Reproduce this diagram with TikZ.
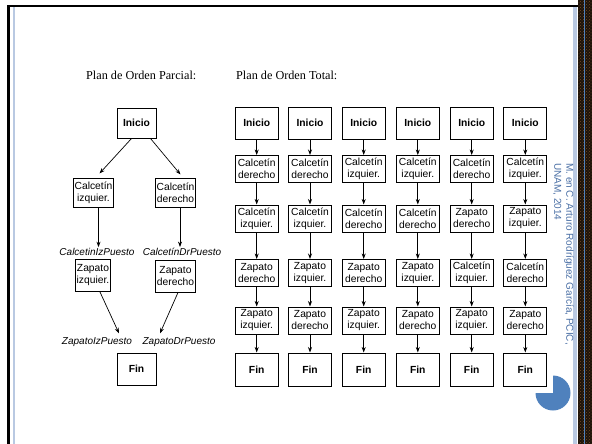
\documentclass[tikz,border=0pt]{standalone}
\usepackage{fontspec}
\setmainfont{Liberation Serif}
\setsansfont{Liberation Sans}
\usetikzlibrary{arrows.meta}
\usetikzlibrary{patterns}

\definecolor{slideblue}{HTML}{4F81BD}
\definecolor{creditblue}{HTML}{4A6FA5}
\definecolor{edgeblue}{HTML}{B9C9E2}

\newcommand{\cizq}{Calcetín\\izquier.}
\newcommand{\cder}{Calcetín\\derecho}
\newcommand{\zizq}{Zapato\\izquier.}
\newcommand{\zder}{Zapato\\derecho}

\begin{document}
\begin{tikzpicture}
		[x=1pt, y=-1pt,
		box/.style={draw, line width=1pt, align=center, inner sep=1pt, minimum width=43pt, minimum height=27pt, font=\sffamily\fontsize{10.3}{12}\selectfont},
		endbox/.style={box, minimum height=32pt, font=\sffamily\bfseries\fontsize{10.3}{12}\selectfont},
		lbl/.style={inner sep=1pt, font=\sffamily\itshape\fontsize{10}{12}\selectfont},
		title/.style={anchor=west, inner sep=0pt, font=\fontsize{12.2}{14}\selectfont},
		link/.style={->, line width=0.7pt},
		>={Stealth[length=5.5pt, width=4pt]}]
		\useasboundingbox (0,0) rectangle (592,444);

		% slide frame
		\fill[black] (7,5) rectangle (579,7);
		\fill[black] (7,5) rectangle (9.5,444);
		\fill[edgeblue] (12.5,7) rectangle (14.5,444);
		\fill[edgeblue] (573,7) rectangle (577,444);
		\fill[black!85!brown] (578,0) rectangle (592,444);
		\fill[pattern=crosshatch dots, pattern color=brown!60!black] (578,0) rectangle (592,444);
		\fill[slideblue] (583.5,0) rectangle (585,444);
		\fill[slideblue] (553,393) -- ++(0,-17.5) arc[start angle=270, end angle=540, radius=17.5] -- cycle;
		\node[rotate=-90, anchor=north west, align=left, inner sep=0pt, text=creditblue, font=\sffamily\fontsize{10}{12}\selectfont] (credit) at (574,163)
			{M. en C. Arturo Rodríguez García, PCIC,\\UNAM, 2014};

		\node[title] (tp) at (86,75) {Plan de Orden Parcial:};
		\node[title] (tt) at (236,75) {Plan de Orden Total:};

		% partial order plan
		\node[endbox, minimum width=39pt, minimum height=30pt] (ini) at (136.5,123) {Inicio};
		\node[box, minimum width=34pt, minimum height=29pt] (ci) at (93.5,192.5) {\cizq};
		\node[box, minimum width=37pt, minimum height=29pt] (cd) at (175.5,192.5) {\cder};
		\node[lbl] (lci) at (97,252) {CalcetinIzPuesto};
		\node[lbl] (lcd) at (182,252) {CalcetínDrPuesto};
		\node[box, minimum width=34pt, minimum height=32pt] (zi) at (93,275.5) {\zizq};
		\node[box, minimum width=36pt, minimum height=32pt] (zd) at (175.5,276) {\zder};
		\node[lbl] (lzi) at (97,342) {ZapatoIzPuesto};
		\node[lbl] (lzd) at (179,342) {ZapatoDrPuesto};
		\node[endbox, minimum width=39pt, minimum height=32pt] (fin) at (136.5,369) {Fin};

		\draw[link] ([xshift=-5pt]ini.south) -- ([xshift=6pt, yshift=4pt]ci.north);
		\draw[link] ([xshift=14pt]ini.south) -- ([xshift=5pt, yshift=3pt]cd.north);
		\draw[link] ([xshift=5pt]ci.south) -- ([xshift=5pt]ci.south |- lci.north);
		\draw[link] ([xshift=4.5pt]cd.south) -- ([xshift=4.5pt]cd.south |- lcd.north);
		\draw[link] ([xshift=7pt]zi.south) -- ([xshift=22pt, yshift=3pt]lzi.north);
		\draw[link] ([xshift=2.5pt]zd.south) -- ([xshift=-19pt, yshift=3pt]lzd.north);

		% total order plans
		\foreach \k/\x/\p/\q/\r/\s in {1/256.7/\cder/\cizq/\zder/\zizq, 2/310/\cder/\cizq/\zizq/\zder,
			3/363.7/\cizq/\cder/\zder/\zizq, 4/417.8/\cizq/\cder/\zizq/\zder,
			5/471.7/\cder/\zder/\cizq/\zizq, 6/525.3/\cizq/\zizq/\cder/\zder}
		{
			\node[endbox] (ini\k) at (\x,123) {Inicio};
			\node[box] (ca\k) at (\x,169) {\p};
			\node[box] (cb\k) at (\x,218.5) {\q};
			\node[box] (za\k) at (\x,273) {\r};
			\node[box] (zb\k) at (\x,320.5) {\s};
			\node[endbox, minimum height=33pt] (fin\k) at (\x,369.5) {Fin};
			\draw[link] (ini\k) -- (ca\k);
			\draw[link] (ca\k) -- (cb\k);
			\draw[link] (cb\k) -- (za\k);
			\draw[link] (za\k) -- (zb\k);
			\draw[link] (zb\k) -- (fin\k);
		}
	\end{tikzpicture}
\end{document}
